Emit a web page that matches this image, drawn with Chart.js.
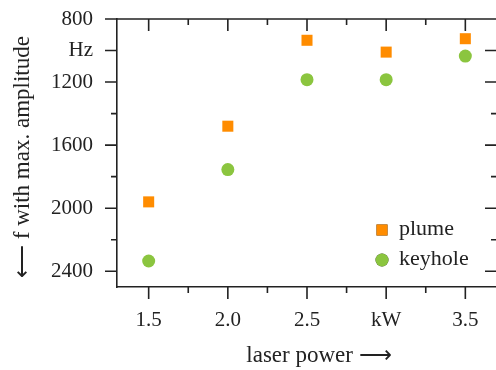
<!DOCTYPE html>
<html><head><meta charset="utf-8">
<script src="https://cdn.jsdelivr.net/npm/chart.js@4"></script>
<style>html,body{margin:0;padding:0;overflow:hidden;background:#fff;width:496px;height:370px}#wrap{width:505px;height:370px;position:relative}</style>
</head><body><div id="wrap"><canvas id="c" width="505" height="370"></canvas></div>
<script>
const laserPower = [1.5, 2.0, 2.5, 3.0, 3.5];
const plumeFreq = [1960, 1480, 935, 1010, 925];
const keyholeFreq = [2335, 1755, 1185, 1185, 1035];
const xTickValues = [1.5, 2.0, 2.5, 3.0, 3.5];
const xTickLabels = ['1.5', '2.0', '2.5', 'kW', '3.5'];
const xMinorValues = [1.75, 2.25, 2.75, 3.25];
const yTickValues = [800, 1000, 1200, 1600, 2000, 2400];
const yTickLabels = ['800', 'Hz', '1200', '1600', '2000', '2400'];
const yMinorValues = [1400, 1800, 2200];
const seriesNames = ['plume', 'keyhole'];
const xTitle = 'laser power \u27F6';
const yTitle = '\u27F5 f with max. amplitude';

const ink = '#222';
const FONT = '"Liberation Serif", "Times New Roman", serif';

const tickPlugin = {
  id: 'ticks2',
  afterDraw(chart) {
    const {ctx, chartArea: a, scales: {x, y}} = chart;
    ctx.save();
    ctx.strokeStyle = ink; ctx.lineWidth = 1.6;
    ctx.beginPath();
    const maj = 12, min = 6;
    xTickValues.forEach(v => { const p = x.getPixelForValue(v);
      ctx.moveTo(p, a.bottom); ctx.lineTo(p, a.bottom + maj);
      ctx.moveTo(p, a.top); ctx.lineTo(p, a.top + maj); });
    xMinorValues.forEach(v => { const p = x.getPixelForValue(v);
      ctx.moveTo(p, a.bottom); ctx.lineTo(p, a.bottom + min);
      ctx.moveTo(p, a.top); ctx.lineTo(p, a.top + min); });
    yTickValues.forEach(v => { const p = y.getPixelForValue(v);
      ctx.moveTo(a.left, p); ctx.lineTo(a.left - maj, p);
      ctx.moveTo(a.right, p); ctx.lineTo(a.right - maj, p); });
    yMinorValues.forEach(v => { const p = y.getPixelForValue(v);
      ctx.moveTo(a.left, p); ctx.lineTo(a.left - min, p);
      ctx.moveTo(a.right, p); ctx.lineTo(a.right - min, p); });
    ctx.moveTo(a.left, a.top); ctx.lineTo(a.right, a.top);
    ctx.moveTo(a.right, a.top); ctx.lineTo(a.right, a.bottom);
    ctx.stroke();
    // axis titles
    ctx.fillStyle = ink; ctx.font = '23px ' + FONT;
    ctx.textAlign = 'center'; ctx.textBaseline = 'middle';
    ctx.fillText(xTitle, 319, 356);
    ctx.save(); ctx.translate(23, 157); ctx.rotate(-Math.PI / 2);
    ctx.fillText(yTitle, 0, 0); ctx.restore();
    // legend
    ctx.font = '22px ' + FONT; ctx.textAlign = 'left';
    chart.data.datasets.forEach((ds, i) => {
      const yy = 230 + i * 30;
      Chart.helpers.drawPoint(ctx, {pointStyle: ds.pointStyle, radius: ds.pointRadius, borderWidth: 0}, 382, yy);
      ctx.fillStyle = ds.backgroundColor; ctx.fill();
      ctx.fillStyle = ink; ctx.fillText(ds.label, 399, yy - 1);
    });
    ctx.restore();
  }
};

new Chart(document.getElementById('c'), {
  type: 'scatter',
  data: {
    datasets: [
      {label: seriesNames[0], data: laserPower.map((p, i) => ({x: p, y: plumeFreq[i]})),
       pointStyle: 'rect', pointRadius: 7.8, backgroundColor: '#ff8c00', borderWidth: 0},
      {label: seriesNames[1], data: laserPower.map((p, i) => ({x: p, y: keyholeFreq[i]})),
       pointStyle: 'circle', pointRadius: 6.5, backgroundColor: '#8bc53f', borderWidth: 0}
    ]
  },
  options: {
    responsive: false, animation: false, devicePixelRatio: 1,
    layout: {padding: {top: 19, right: 8, left: 0, bottom: 0}},
    plugins: {legend: {display: false}, tooltip: {enabled: false}},
    scales: {
      x: {
        type: 'linear', min: 1.3, max: 3.7,
        afterBuildTicks: s => { s.ticks = xTickValues.map(v => ({value: v})); },
        afterFit: s => { s.height = 83; s.paddingLeft = 0; s.paddingRight = 0; },
        ticks: {color: ink, font: {family: FONT, size: 21}, padding: 21, maxRotation: 0,
          callback: v => { const i = xTickValues.findIndex(t => Math.abs(t - v) < 1e-6); return i >= 0 ? xTickLabels[i] : ''; }},
        grid: {display: false, drawTicks: false},
        border: {display: true, color: ink, width: 1.6}
      },
      y: {
        type: 'linear', min: 800, max: 2500, reverse: true,
        afterBuildTicks: s => { s.ticks = yTickValues.map(v => ({value: v})); },
        afterFit: s => { s.width = 117; s.paddingTop = 0; s.paddingBottom = 0; },
        ticks: {color: ink, font: {family: FONT, size: 21}, padding: 24,
          callback: v => { const i = yTickValues.indexOf(v); return i >= 0 ? yTickLabels[i] : ''; }},
        grid: {display: false, drawTicks: false},
        border: {display: true, color: ink, width: 1.6}
      }
    }
  },
  plugins: [tickPlugin]
});
</script></body></html>
